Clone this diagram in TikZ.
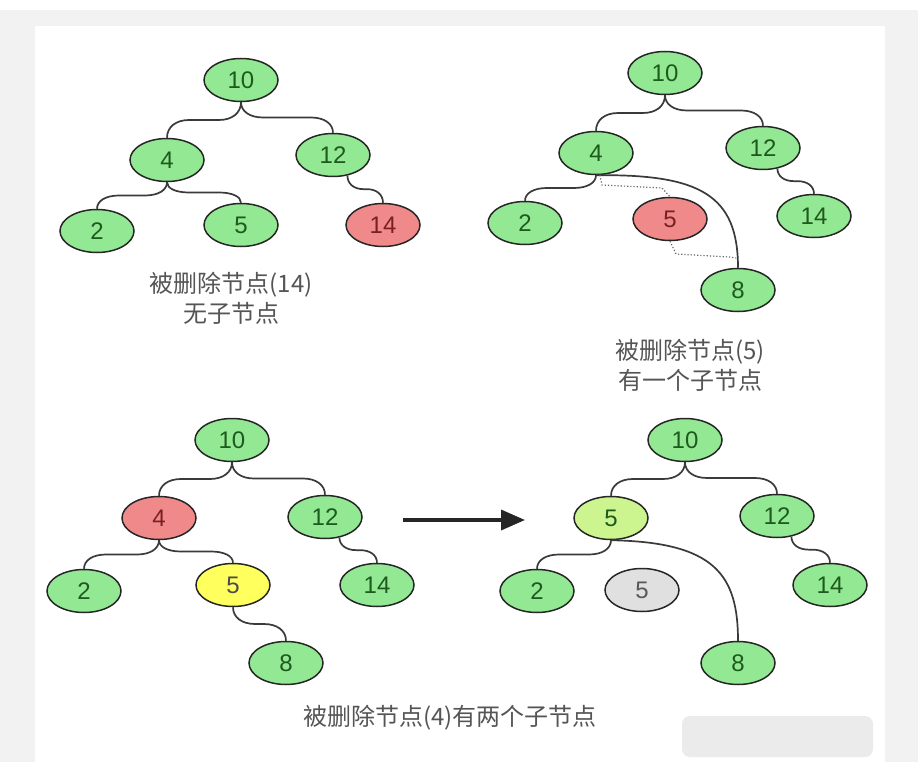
\documentclass[tikz,border=0pt]{standalone}
\usepackage{fontspec}
\setmainfont{Liberation Sans}
\newfontfamily\cjkfont{Noto Sans CJK SC}
\usetikzlibrary{calc,arrows.meta,shapes.geometric}
\definecolor{bggray}{HTML}{F2F2F2}
\definecolor{ngreen}{HTML}{93E893}
\definecolor{nred}{HTML}{F08A8A}
\definecolor{nyellow}{HTML}{FFFF5E}
\definecolor{nlgreen}{HTML}{CCF590}
\definecolor{ngray}{HTML}{E0E0E0}
\definecolor{tgreen}{HTML}{1E5A1E}
\definecolor{tred}{HTML}{7A2020}
\definecolor{edgecol}{HTML}{3A3A3A}
\definecolor{capcol}{HTML}{555555}
\tikzset{
  tnode/.style={ellipse, draw=black!85, line width=1.5pt, minimum width=74pt, minimum height=43pt, inner sep=0pt, font=\fontsize{24}{24}\selectfont, text=tgreen, fill=ngreen},
  gnode/.style={tnode},
  rnode/.style={tnode, fill=nred, text=tred},
  ynode/.style={tnode, fill=nyellow, text=black!70},
  lgnode/.style={tnode, fill=nlgreen},
  greynode/.style={tnode, fill=ngray, text=black!65},
  edge/.style={draw=edgecol, line width=1.7pt},
  arc/.style={draw=edgecol, line width=1.7pt},
  dotline/.style={draw=black!60, line width=1.2pt, dotted},
  caption/.style={font=\cjkfont\fontsize{24}{30}\selectfont, text=capcol, align=center},
}
% parent anchor #2, child anchor #3, corner size #1
\newcommand\tedge[3][22pt]{%
  \coordinate (tm) at ($(#2)!0.5!(#3)$);
  \coordinate (tA) at (#2 |- tm);
  \coordinate (tB) at (#3 |- tm);
  \coordinate (tA2) at ($(tA)!#1!(tB)$);
  \coordinate (tB2) at ($(tB)!#1!(tA)$);
  \draw[edge] (#2) .. controls ($(#2)!0.6!(tA)$) and ($(tA2)!0.6!(tA)$) .. (tA2)
     -- (tB2) .. controls ($(tB2)!0.6!(tB)$) and ($(#3)!0.6!(tB)$) .. (#3);}
\begin{document}
\begin{tikzpicture}[x=1pt,y=-1pt]
\useasboundingbox (0,0) rectangle (918,762);
\fill[bggray] (0,10) rectangle (918,762);
\fill[white] (35,26) rectangle (885,762);
\fill[black!8, rounded corners=8pt] (682,716) rectangle (873,757);
% ---------- Tree A ----------
\node[gnode] (a10) at (241,80) {10};
\node[gnode] (a4) at (167,160) {4};
\node[gnode] (a12) at (333,155) {12};
\node[gnode] (a2) at (97,231) {2};
\node[gnode] (a5) at (241,225) {5};
\node[rnode] (a14) at (383,225) {14};
\tedge{a10.south}{a4.north}
\tedge{a10.south}{a12.north}
\tedge{a4.south}{a2.north}
\tedge{a4.south}{a5.north}
\tedge[0.45]{a12.-55}{a14.north}
\node[caption] (acap) at (231,298) {被删除节点(14)\\无子节点};
% ---------- Tree B ----------
\node[gnode] (b10) at (665,73) {10};
\node[gnode] (b4) at (596,153) {4};
\node[gnode] (b12) at (763,148) {12};
\node[gnode] (b2) at (525,223) {2};
\node[rnode] (b5) at (670,219) {5};
\node[gnode] (b14) at (814,216) {14};
\node[gnode] (b8) at (738,290) {8};
\tedge{b10.south}{b4.north}
\tedge{b10.south}{b12.north}
\tedge{b4.south}{b2.north}
\tedge[0.45]{b12.-55}{b14.north}
\draw[arc] (b4.south) .. controls (700,174) and (738,195) .. (b8.north);
\coordinate (bj) at (736,258);
\draw[dotline] (b4.-80) -- (602,185) -- (662,188) -- (b5.north);
\draw[dotline] (b5.south) -- (676,254) -- (729,257) -- (bj);
\node[caption] (bcap) at (690,365) {被删除节点(5)\\有一个子节点};
% ---------- Tree C ----------
\node[gnode] (c10) at (232,440) {10};
\node[rnode] (c4) at (159,518) {4};
\node[gnode] (c12) at (325,517) {12};
\node[gnode] (c2) at (84,591) {2};
\node[ynode] (c5) at (233,585) {5};
\node[gnode] (c14) at (377,585) {14};
\node[gnode] (c8) at (286,663) {8};
\tedge{c10.south}{c4.north}
\tedge{c10.south}{c12.north}
\tedge{c4.south}{c2.north}
\tedge{c4.south}{c5.north}
\tedge{c5.south}{c8.north}
\tedge[0.45]{c12.-55}{c14.north}
% arrow
\coordinate (arS) at (403,520);
\coordinate (arE) at (525,520);
\draw[black!85, line width=3.5pt, -{Triangle[length=24pt,width=20pt]}] (arS) -- (arE);
% ---------- Tree D ----------
\node[gnode] (d10) at (685,440) {10};
\node[lgnode] (d5) at (611,518) {5};
\node[gnode] (d12) at (777,516) {12};
\node[gnode] (d2) at (537,591) {2};
\node[greynode] (d5g) at (642,590) {5};
\node[gnode] (d14) at (830,585) {14};
\node[gnode] (d8) at (738,663) {8};
\tedge{d10.south}{d5.north}
\tedge{d10.south}{d12.north}
\tedge{d5.south}{d2.north}
\tedge[0.45]{d12.-55}{d14.north}
\draw[arc] (d5.south) .. controls (715,542) and (738,575) .. (d8.north);
\node[caption] (ccap) at (450,718) {被删除节点(4)有两个子节点};
\end{tikzpicture}
\end{document}
